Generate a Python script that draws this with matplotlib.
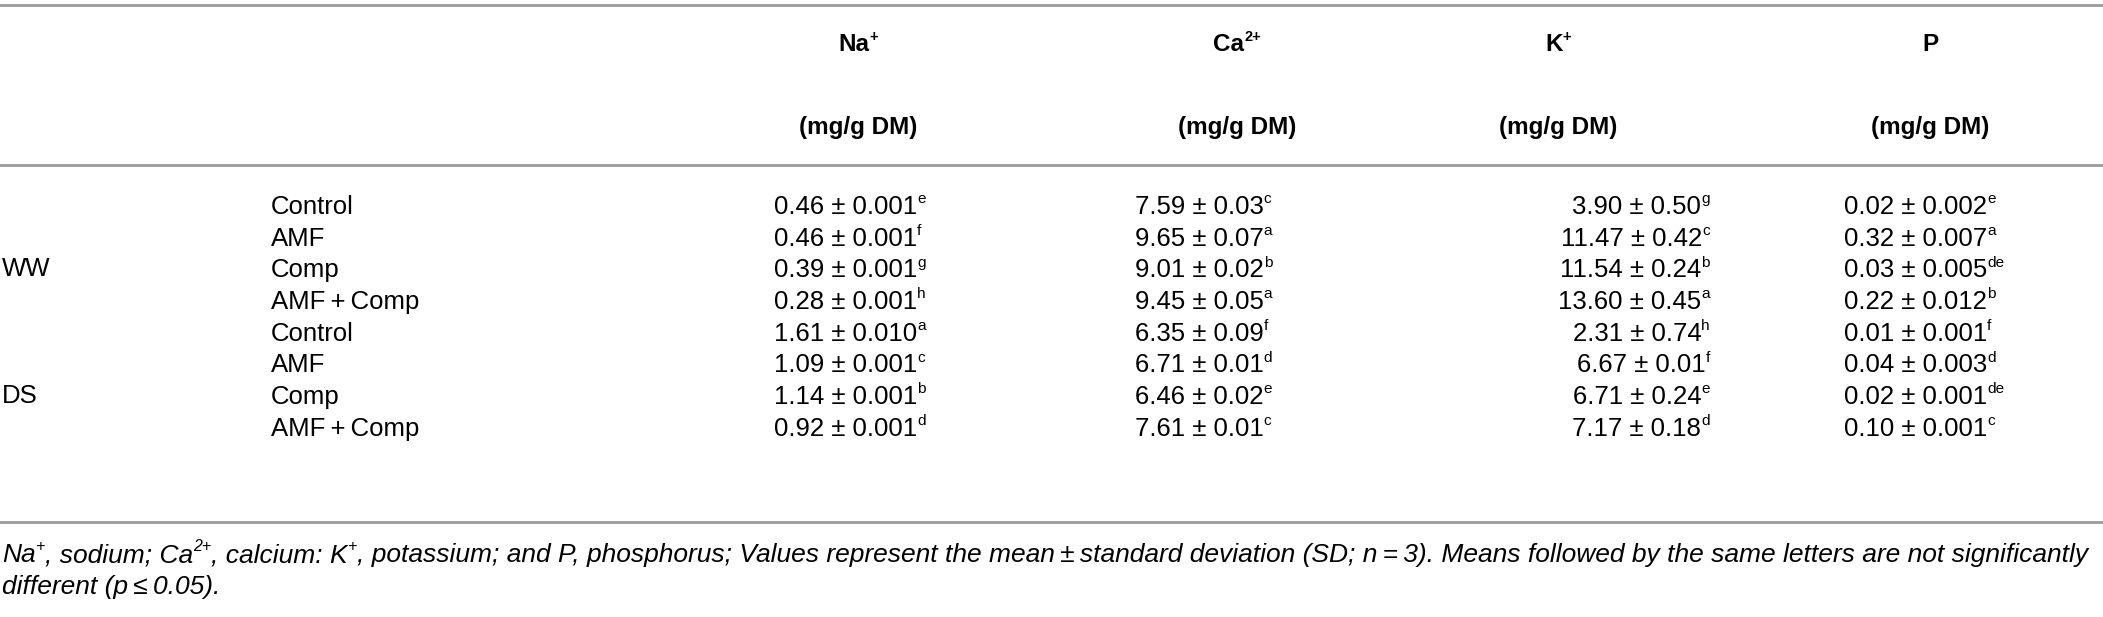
import matplotlib
matplotlib.use("Agg")
import matplotlib.pyplot as plt

plt.rcParams['font.family'] = ['Liberation Sans', 'DejaVu Sans']

# table data
groups = ['WW', 'DS']
treatments = ['Control', 'AMF', 'Comp', 'AMF\u2009+\u2009Comp']
headers = ['Na', 'Ca', 'K', 'P']
charges = ['+', '2+', '+', '']
unit = '(mg/g DM)'

na_mean = [0.46, 0.46, 0.39, 0.28, 1.61, 1.09, 1.14, 0.92]
na_sd = [0.001, 0.001, 0.001, 0.001, 0.010, 0.001, 0.001, 0.001]
na_let = ['e', 'f', 'g', 'h', 'a', 'c', 'b', 'd']

ca_mean = [7.59, 9.65, 9.01, 9.45, 6.35, 6.71, 6.46, 7.61]
ca_sd = [0.03, 0.07, 0.02, 0.05, 0.09, 0.01, 0.02, 0.01]
ca_let = ['c', 'a', 'b', 'a', 'f', 'd', 'e', 'c']

k_mean = [3.90, 11.47, 11.54, 13.60, 2.31, 6.67, 6.71, 7.17]
k_sd = [0.50, 0.42, 0.24, 0.45, 0.74, 0.01, 0.24, 0.18]
k_let = ['g', 'c', 'b', 'a', 'h', 'f', 'e', 'd']

p_mean = [0.02, 0.32, 0.03, 0.22, 0.01, 0.04, 0.02, 0.10]
p_sd = [0.002, 0.007, 0.005, 0.012, 0.001, 0.003, 0.001, 0.001]
p_let = ['e', 'a', 'de', 'b', 'f', 'd', 'de', 'c']

# footnote pieces: (text, superscript?)
footnote = [
    [('Na', 0), ('+', 1), (', sodium; Ca', 0), ('2+', 1), (', calcium: K', 0), ('+', 1),
     (', potassium; and P, phosphorus; Values represent the mean\u2009\u00b1\u2009standard '
      'deviation (SD; n\u2009=\u20093). Means followed by the same letters are not significantly', 0)],
    [('different (p\u2009\u2264\u20090.05).', 0)],
]

W, H = 2103, 617
fig = plt.figure(figsize=(W / 100, H / 100), dpi=100)
ax = fig.add_axes([0, 0, 1, 1])
ax.set_xlim(0, W)
ax.set_ylim(H, 0)
ax.axis('off')
renderer = fig.canvas.get_renderer()


def rich_text(x, y, pieces, ha='left', size=17, **kw):
    """Draw a run of text pieces, some as superscripts, starting at x."""
    arts = []
    cur = x
    for txt, sup in pieces:
        fsz = size * 0.6 if sup else size
        dy = -size * 0.58 if sup else 0
        t = ax.text(cur, y + dy, txt, ha='left', va='baseline', fontsize=fsz, **kw)
        w = t.get_window_extent(renderer).width
        arts.append(t)
        cur += w
    total = cur - x
    shift = {'left': 0, 'center': -total / 2, 'right': -total}[ha]
    if shift:
        for t in arts:
            t.set_x(t.get_position()[0] + shift)
    return arts


rule_kw = dict(color='#9a9a9a', lw=2.0)
for y in (5, 165, 522):
    ax.plot([0, W], [y, y], **rule_kw)

fs = 18.5
hfs = 17.5
# column layout: (x, alignment)
col_x = [(774, 'left'), (1135, 'left'), (1710, 'right'), (1844, 'left')]
head_x = [858, 1237, 1558, 1930]
columns = [
    (na_mean, na_sd, na_let, 3),
    (ca_mean, ca_sd, ca_let, 2),
    (k_mean, k_sd, k_let, 2),
    (p_mean, p_sd, p_let, 3),
]

for hx, name, ch in zip(head_x, headers, charges):
    pieces = [(name, 0)] + ([(ch, 1)] if ch else [])
    rich_text(hx, 51, pieces, ha='center', size=hfs, fontweight='bold')
    rich_text(hx, 134, [(unit, 0)], ha='center', size=hfs, fontweight='bold')

row_y0, row_dy = 214, 31.7
for g, grp in enumerate(groups):
    ax.text(2, row_y0 + row_dy * (4 * g + 1.95), grp, ha='left', va='baseline', fontsize=fs)
    for t, tr in enumerate(treatments):
        i = 4 * g + t
        y = row_y0 + row_dy * i
        ax.text(271, y, tr, ha='left', va='baseline', fontsize=fs)
        for (x, al), (means, sds, lets, dec) in zip(col_x, columns):
            main = '%.2f \u00b1 %.*f' % (means[i], dec, sds[i])
            rich_text(x, y, [(main, 0), (lets[i], 1)], ha=al, size=fs)

for k, line in enumerate(footnote):
    rich_text(2, 562 + 32 * k, line, size=19, style='italic')

fig.savefig('out.png', dpi=100)
